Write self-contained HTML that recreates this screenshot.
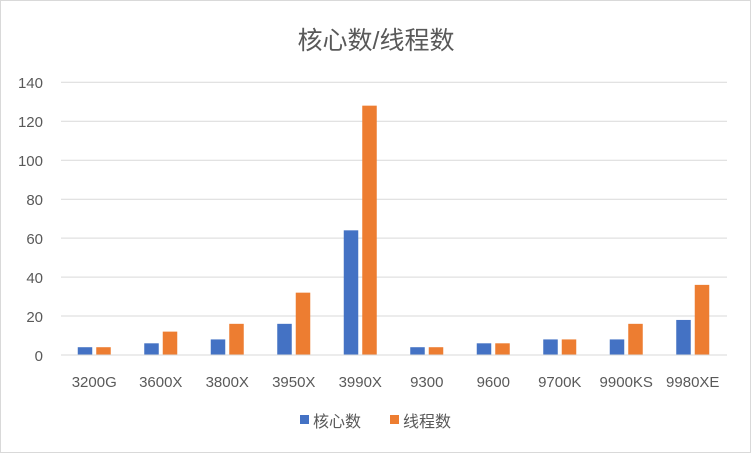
<!DOCTYPE html>
<html><head><meta charset="utf-8"><style>
body{margin:0;background:#fff}
svg text{font-family:"Liberation Sans","Noto Sans CJK SC",sans-serif;fill:#595959}
</style></head><body>
<svg width="752" height="454" xmlns="http://www.w3.org/2000/svg">
<rect x="0.5" y="0.5" width="750" height="452" fill="#fff" stroke="#d9d9d9"/>
<text x="376" y="49" font-size="25" text-anchor="middle">核心数/线程数</text>
<g stroke="#d9d9d9" stroke-width="1">
<line x1="61" x2="727" y1="82.3" y2="82.3"/>
<line x1="61" x2="727" y1="121.3" y2="121.3"/>
<line x1="61" x2="727" y1="160.2" y2="160.2"/>
<line x1="61" x2="727" y1="199.2" y2="199.2"/>
<line x1="61" x2="727" y1="238.1" y2="238.1"/>
<line x1="61" x2="727" y1="277.1" y2="277.1"/>
<line x1="61" x2="727" y1="316" y2="316"/>
</g>
<g font-size="15" text-anchor="end">
<text x="43" y="88">140</text><text x="43" y="127">120</text><text x="43" y="166">100</text>
<text x="43" y="205">80</text><text x="43" y="244">60</text><text x="43" y="283">40</text>
<text x="43" y="322">20</text><text x="43" y="361">0</text>
</g>
<g fill="#4472c4">
<rect x="77.75" y="347.21" width="14.5" height="7.79"/>
<rect x="144.25" y="343.31" width="14.5" height="11.69"/>
<rect x="210.75" y="339.42" width="14.5" height="15.58"/>
<rect x="277.25" y="323.83" width="14.5" height="31.17"/>
<rect x="343.75" y="230.33" width="14.5" height="124.67"/>
<rect x="410.25" y="347.21" width="14.5" height="7.79"/>
<rect x="476.75" y="343.31" width="14.5" height="11.69"/>
<rect x="543.25" y="339.42" width="14.5" height="15.58"/>
<rect x="609.75" y="339.42" width="14.5" height="15.58"/>
<rect x="676.25" y="319.94" width="14.5" height="35.06"/>
</g>
<g fill="#ed7d31">
<rect x="96.25" y="347.21" width="14.5" height="7.79"/>
<rect x="162.75" y="331.62" width="14.5" height="23.38"/>
<rect x="229.25" y="323.83" width="14.5" height="31.17"/>
<rect x="295.75" y="292.66" width="14.5" height="62.34"/>
<rect x="362.25" y="105.66" width="14.5" height="249.34"/>
<rect x="428.75" y="347.21" width="14.5" height="7.79"/>
<rect x="495.25" y="343.31" width="14.5" height="11.69"/>
<rect x="561.75" y="339.42" width="14.5" height="15.58"/>
<rect x="628.25" y="323.83" width="14.5" height="31.17"/>
<rect x="694.75" y="284.87" width="14.5" height="70.13"/>
</g>
<line x1="61" x2="727" y1="355" y2="355" stroke="#d9d9d9"/>
<g font-size="15" text-anchor="middle">
<text x="94.25" y="387">3200G</text>
<text x="160.75" y="387">3600X</text>
<text x="227.25" y="387">3800X</text>
<text x="293.75" y="387">3950X</text>
<text x="360.25" y="387">3990X</text>
<text x="426.75" y="387">9300</text>
<text x="493.25" y="387">9600</text>
<text x="559.75" y="387">9700K</text>
<text x="626.25" y="387">9900KS</text>
<text x="692.75" y="387">9980XE</text>
</g>
<rect x="300" y="415" width="9" height="9" fill="#4472c4"/>
<text x="313" y="427" font-size="16">核心数</text>
<rect x="390" y="415" width="9" height="9" fill="#ed7d31"/>
<text x="403" y="427" font-size="16">线程数</text>
</svg>
</body></html>
